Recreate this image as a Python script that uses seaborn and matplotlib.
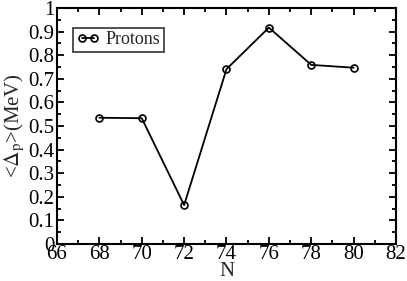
import matplotlib
matplotlib.use("Agg")
import matplotlib.pyplot as plt
import seaborn as sns
import pandas as pd
from matplotlib.ticker import MultipleLocator

N = [68, 70, 72, 74, 76, 78, 80]
delta_p = [0.535, 0.533, 0.165, 0.741, 0.917, 0.759, 0.747]
series = "Protons"

sns.set_style("ticks")
plt.rcParams['font.family'] = ['Liberation Serif', 'DejaVu Serif']
plt.rcParams['mathtext.fontset'] = 'stix'

df = pd.DataFrame({"N": N, "delta": delta_p, "series": series})

fig = plt.figure(figsize=(4.07, 2.81), dpi=100)
ax = fig.add_axes([0.140, 0.1317, 0.833, 0.8398])
sns.lineplot(data=df, x="N", y="delta", hue="series", palette=["black"],
             marker="o", markersize=5, markerfacecolor="none",
             markeredgecolor="black", markeredgewidth=1.2, linewidth=1.3, ax=ax)

ax.set_xlim(66, 82)
ax.set_ylim(0, 1)
ax.xaxis.set_major_locator(MultipleLocator(2))
ax.xaxis.set_minor_locator(MultipleLocator(1))
ax.yaxis.set_major_locator(MultipleLocator(0.1))
ax.yaxis.set_minor_locator(MultipleLocator(0.05))
ax.set_yticks([i / 10 for i in range(11)])
ax.set_yticklabels(["0" if i == 0 else ("1" if i == 10 else f"{i/10:.1f}") for i in range(11)])
ax.tick_params(which="both", direction="in", top=True, right=True, labelsize=15, width=1.3, colors="black")
ax.tick_params(which="major", length=5, pad=2)
ax.tick_params(which="minor", length=3)
ax.tick_params(axis="x", which="major", pad=1)
for s in ax.spines.values():
    s.set_linewidth(1.5)
    s.set_color("black")

ax.set_xlabel("N", fontsize=15, labelpad=-1.5)
ax.set_ylabel(r"<$\Delta_{\rm p}$>(MeV)", fontsize=15, labelpad=1)

leg = ax.legend(loc="upper left", fontsize=13, frameon=True, fancybox=False,
                edgecolor="black", handlelength=1.3, handletextpad=0.3,
                borderpad=0.2, numpoints=2, bbox_to_anchor=(0.02, 0.955))
leg.get_frame().set_linewidth(1.2)

fig.savefig("out.png", dpi=100)
